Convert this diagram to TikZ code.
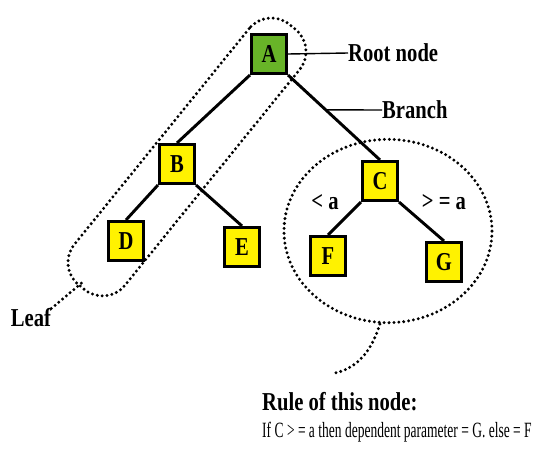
\documentclass[tikz,border=0pt]{standalone}
\usepackage{fontspec}
\setmainfont{Liberation Serif}[FakeStretch=0.8]
\newfontfamily\rulefont{Liberation Serif}[FakeStretch=0.62]
\usetikzlibrary{shapes.geometric}
\definecolor{rootgreen}{RGB}{104,180,40}

\begin{document}
\begin{tikzpicture}[x=0.03cm,y=-0.03cm,
    lbl/.style={font=\fontsize{22}{26}\selectfont\bfseries,inner sep=0pt},
    dotline/.style={line width=2.8pt,dash pattern=on 0pt off 4.2pt,line cap=round}]
  \useasboundingbox (0,0) rectangle (533,450);

  % dotted groups
  \node[draw,dotline,rounded corners=0.86cm,rotate=51,minimum width=10.05cm,minimum height=1.95cm] (leaf) at (187,157) {};
  \node[ellipse,draw,dotline,minimum width=6.24cm,minimum height=5.5cm] (rule) at (388,231) {};

  \begin{scope}[every node/.style={rectangle,draw,line width=2.6pt,fill=yellow,
      minimum width=1.05cm,minimum height=1.17cm,inner sep=0pt,
      font=\fontsize{22}{26}\selectfont\bfseries}]
    \node[fill=rootgreen] (A) at (269,54) {A};
    \node (B) at (177,164) {B};
    \node (C) at (380,181) {C};
    \node (D) at (126,241) {D};
    \node (E) at (242,247) {E};
    \node (F) at (328,256) {F};
    \node (G) at (444,262) {G};
  \end{scope}

  \begin{scope}[every edge/.style={draw=black,line width=2.5pt}]
    \path (A.south west) edge (B.north);
    \path (A.south east) edge (C.north);
    \path (B.south west) edge (D.north);
    \path (B.south east) edge (E.north);
    \path (C.south west) edge (F.north);
    \path (C.south east) edge (G.north);
  \end{scope}

  % labels
  \node[lbl,anchor=west] (rootlbl) at (348,53) {Root node};
  \node[lbl,anchor=west] (brlbl) at (382,110) {Branch};
  \node[lbl] (lt) at (325,202) {< a};
  \node[lbl] (ge) at (444,202) {> = a};
  \node[lbl] (leaflbl) at (31,318) {Leaf};
  \node[lbl,anchor=base west] (rulelbl) at (262,410) {Rule of this node:};
  \node[anchor=base west,inner sep=0pt,font=\rulefont\fontsize{18.6}{21}\selectfont] (ruletxt) at (262,437)
    {If C > = a then dependent parameter = G. else = F};

  \path (A.south east) -- (C.north) coordinate[pos=0.41] (br);
  \draw[line width=1.2pt] (A.east) -- (rootlbl.west);
  \draw[line width=1.2pt] (br) -- (brlbl.west);

  \coordinate (leaftip) at (84,281);
  \coordinate (tailend) at (335,373);
  \draw[dotline] (leaflbl.north east) -- (leaftip);
  \draw[dotline] (rule.265) .. controls (372,350) and (358,368) .. (tailend);
\end{tikzpicture}
\end{document}
